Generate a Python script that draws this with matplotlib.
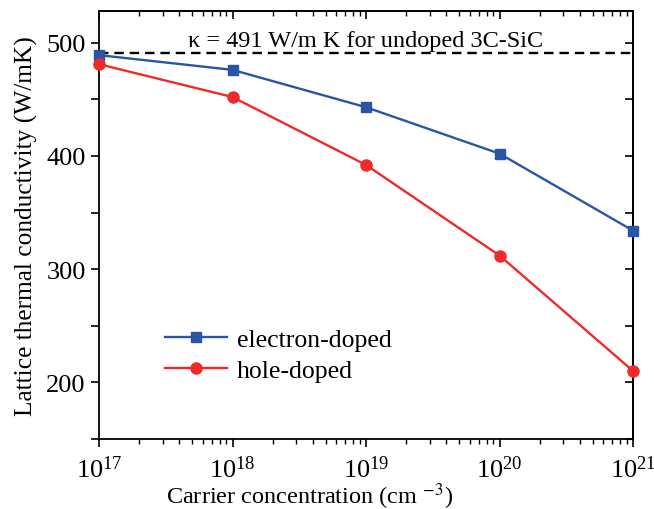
import numpy as np
import matplotlib.pyplot as plt
from matplotlib.ticker import LogLocator, NullFormatter, MultipleLocator

plt.rcParams['font.family'] = ['Liberation Serif', 'DejaVu Serif']
plt.rcParams['mathtext.fontset'] = 'stix'

# carrier concentration (cm^-3) and lattice thermal conductivity (W/mK)
conc = [1e17, 1e18, 1e19, 1e20, 1e21]
kappa_electron = [489, 476, 443, 402, 334]
kappa_hole = [481, 452, 392, 312, 210]
kappa_undoped = 491

fig = plt.figure(figsize=(6.54, 5.10), dpi=100)
ax = fig.add_axes([0.1514, 0.1373, 0.8166, 0.8392])

blue = '#2a55a4'
red = '#ee2a2a'
ax.axhline(kappa_undoped, color='black', ls=(0, (4, 2.5)), lw=1.7)
ax.plot(conc, kappa_electron, '-s', color=blue, lw=1.7, ms=7, label='electron-doped', clip_on=False, zorder=3)
ax.plot(conc, kappa_hole, '-o', color=red, lw=1.7, ms=8, label='hole-doped', clip_on=False, zorder=3)

ax.set_xscale('log')
ax.set_xlim(1e17, 1e21)
ax.set_ylim(150, 528)
ax.yaxis.set_major_locator(MultipleLocator(100))
ax.yaxis.set_minor_locator(MultipleLocator(50))
ax.xaxis.set_major_locator(LogLocator(base=10, numticks=10))
ax.xaxis.set_minor_locator(LogLocator(base=10, subs=np.arange(2, 10), numticks=10))
ax.xaxis.set_minor_formatter(NullFormatter())

ax.tick_params(which='major', direction='out', length=6, width=1.2, labelsize=19)
ax.tick_params(axis='x', which='minor', direction='out', length=3.5, width=1.0)
ax.tick_params(axis='y', which='minor', direction='out', length=6, width=1.2)
ax.tick_params(axis='x', pad=6)

# inward ticks on top and right
top = ax.secondary_xaxis('top')
top.set_xscale('log')
top.xaxis.set_major_locator(LogLocator(base=10, numticks=10))
top.xaxis.set_minor_locator(LogLocator(base=10, subs=np.arange(2, 10), numticks=10))
top.tick_params(which='major', direction='in', length=6, width=1.2, labeltop=False)
top.tick_params(which='minor', direction='in', length=3.5, width=1.0)
top.xaxis.set_minor_formatter(NullFormatter())
right = ax.secondary_yaxis('right')
right.yaxis.set_major_locator(MultipleLocator(100))
right.yaxis.set_minor_locator(MultipleLocator(50))
right.tick_params(which='both', direction='in', length=6, width=1.2, labelright=False)

for s in ax.spines.values():
    s.set_linewidth(1.3)
top.spines['top'].set_linewidth(1.3)
right.spines['right'].set_linewidth(1.3)

ax.set_xlabel('Carrier concentration (cm $^{-3}$)', fontsize=17.5)
ax.xaxis.set_label_coords(0.395, -0.097)
ax.set_ylabel('Lattice thermal conductivity (W/mK)', fontsize=18.3, labelpad=6)

ax.text(0.5, 0.93, '\u03ba = 491 W/m K for undoped 3C-SiC', transform=ax.transAxes,
        ha='center', va='center', fontsize=17.5)

ax.legend(loc='lower left', bbox_to_anchor=(0.08, 0.08), frameon=False, fontsize=18.5,
          handlelength=2.4, handletextpad=0.4, labelspacing=0.3)

fig.savefig('out.png', dpi=100)
